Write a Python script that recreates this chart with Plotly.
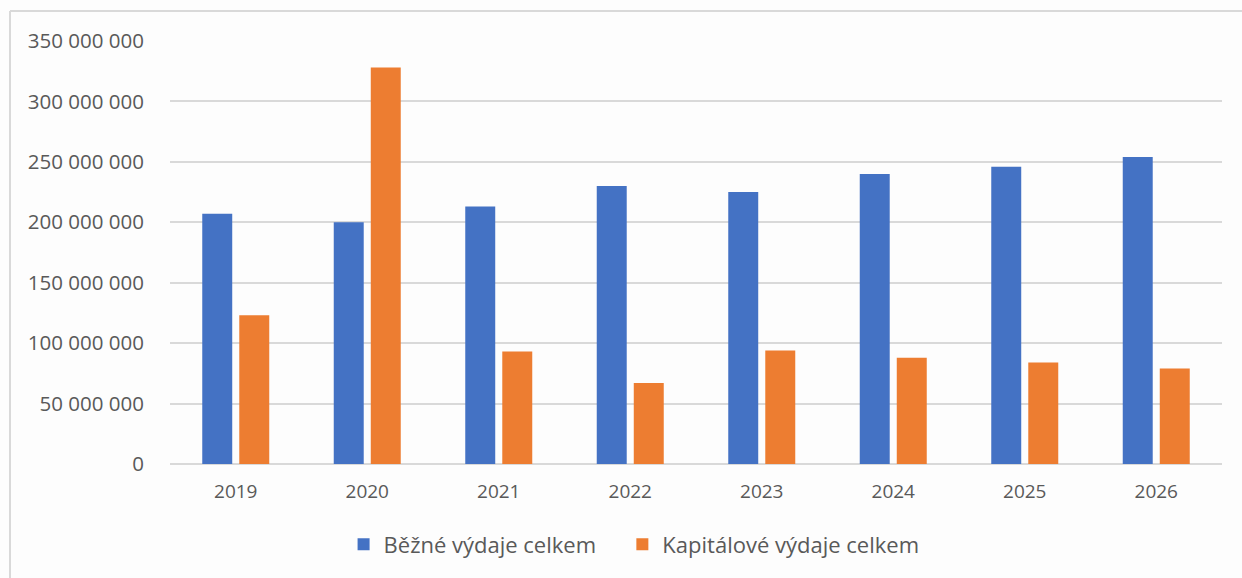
import plotly.graph_objects as go

years = ["2019", "2020", "2021", "2022", "2023", "2024", "2025", "2026"]
bezne = [207e6, 200e6, 213e6, 230e6, 225e6, 240e6, 246e6, 254e6]
kapitalove = [123e6, 328e6, 93e6, 67e6, 94e6, 88e6, 84e6, 79e6]
series_names = ["Běžné výdaje celkem", "Kapitálové výdaje celkem"]
tick_vals = [0, 50e6, 100e6, 150e6, 200e6, 250e6, 300e6, 350e6]
tick_text = ["0", "50 000 000", "100 000 000", "150 000 000", "200 000 000",
             "250 000 000", "300 000 000", "350 000 000"]

BLUE = "#4472C4"
ORANGE = "#ED7D31"
GRID = "#d9d9d9"
TXT = "#595959"
FONT = "Open Sans"

fig = go.Figure()
fig.add_trace(go.Bar(x=years, y=bezne, name=series_names[0], marker_color=BLUE,
                     marker_line_width=0, legend="legend"))
fig.add_trace(go.Bar(x=years, y=kapitalove, name=series_names[1], marker_color=ORANGE,
                     marker_line_width=0, legend="legend2"))

W, H = 1242, 578
L, R, T, B = 170, 20, 41, 114
pw = W - L - R
ph = H - T - B

leg_common = dict(orientation="h", xanchor="left", y=-0.19, yanchor="middle",
                  font=dict(size=22, color=TXT, family=FONT), itemwidth=30,
                  bgcolor="rgba(0,0,0,0)")

fig.update_layout(
    width=W, height=H,
    margin=dict(l=L, r=R, t=T, b=B),
    paper_bgcolor="#fdfdfd",
    plot_bgcolor="#fdfdfd",
    barmode="group",
    bargap=0.437,
    bargroupgap=0.19,
    font=dict(family=FONT, color=TXT, size=19),
    showlegend=True,
    legend=dict(x=0.165, **leg_common),
    legend2=dict(x=0.430, **leg_common),
    xaxis=dict(showgrid=False, showline=False, zeroline=False,
               ticks="outside", ticklen=10, tickcolor="rgba(0,0,0,0)",
               tickfont=dict(size=19, color=TXT, family=FONT)),
    yaxis=dict(range=[0, 350e6], tickvals=tick_vals, ticktext=tick_text,
               showgrid=True, gridcolor=GRID, gridwidth=2,
               zeroline=True, zerolinecolor=GRID, zerolinewidth=2,
               showline=False, ticks="outside", ticklen=21, tickcolor="rgba(0,0,0,0)",
               tickfont=dict(size=20.5, color=TXT, family=FONT)),
)

# outer frame of the embedded chart (top and left edges)
fx0 = (10 - L) / pw
fy_top = (H - 11 - B) / ph
fy_bot = (H - 600 - B) / ph
fig.add_shape(type="line", xref="paper", yref="paper", x0=fx0, x1=1.1, y0=fy_top, y1=fy_top,
              line=dict(color=GRID, width=2))
fig.add_shape(type="line", xref="paper", yref="paper", x0=fx0, x1=fx0, y0=fy_top, y1=fy_bot,
              line=dict(color=GRID, width=2))

fig.write_html("out.html", config={"displayModeBar": False},
               post_script="document.body.style.margin='0';document.body.style.overflow='hidden';")
